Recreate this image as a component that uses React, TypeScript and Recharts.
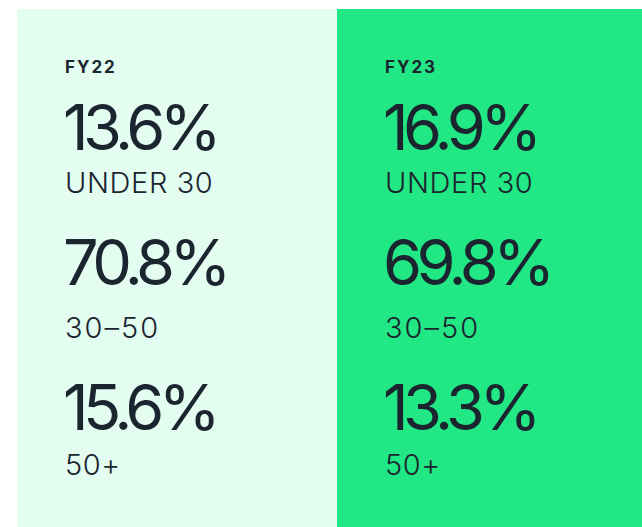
import { Bar, BarChart, Cell, XAxis, YAxis } from 'recharts';

const years = ['FY22', 'FY23'];
const under30 = [13.6, 16.9];
const age30to50 = [70.8, 69.8];
const over50 = [15.6, 13.3];
const groupLabels = ['UNDER 30', '30–50', '50+'];

const data = years.map((year, i) => ({
  year,
  panel: 1,
  values: [under30[i], age30to50[i], over50[i]],
}));

const fills = ['#e3fdf0', '#21e784'];
const ink = '#1b2530';

function Panel(props: any) {
  const { x, y, width, height, index, payload } = props;
  const left = x + 48;
  const bigY = [150, 285, 430];
  const smallY = [193, 338, 475];
  return (
    <g>
      <rect x={x} y={y} width={width} height={height} fill={fills[index]} />
      <text x={left} y={73} fill={ink} fontSize={17} fontWeight={700} letterSpacing={2}>
        {payload.year}
      </text>
      {payload.values.map((v: number, k: number) => (
        <g key={k}>
          <text x={left - 2} y={bigY[k]} fill={ink} fontSize={63} fontWeight={400} letterSpacing={-5.5}>
            {v.toFixed(1)}%
          </text>
          <text x={left} y={smallY[k]} fill={ink} fontSize={29} fontWeight={300} letterSpacing={k === 1 ? 2 : 0.6}>
            {groupLabels[k]}
          </text>
        </g>
      ))}
    </g>
  );
}

export default function App() {
  return (
    <div style={{ position: 'absolute', left: 0, top: 0, width: 642, height: 527, overflow: 'hidden', background: '#fff' }}>
      <BarChart
        width={657}
        height={527}
        data={data}
        margin={{ top: 9, right: 0, left: 17, bottom: 0 }}
        barCategoryGap={0}
        style={{ fontFamily: 'Inter, sans-serif' }}
      >
        <XAxis dataKey="year" hide />
        <YAxis hide domain={[0, 1]} />
        <Bar dataKey="panel" shape={<Panel />} isAnimationActive={false}>
          {data.map((d, i) => (
            <Cell key={d.year} fill={fills[i]} />
          ))}
        </Bar>
      </BarChart>
    </div>
  );
}
